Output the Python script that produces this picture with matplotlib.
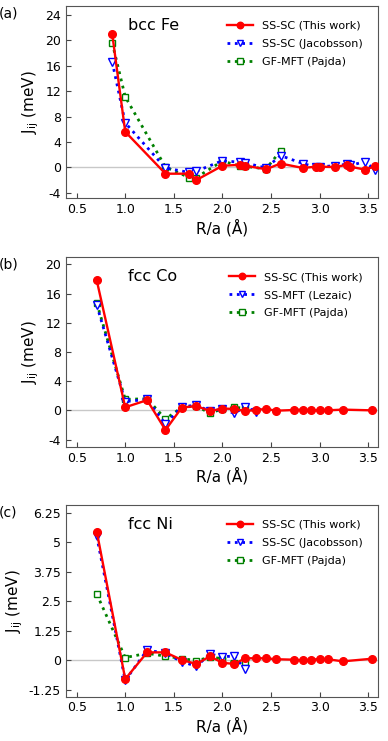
import numpy as np
import matplotlib.pyplot as plt

# =========================
# 0. Data
# =========================
# bcc Fe
fe_r = [0.866, 1.0, 1.414, 1.658, 1.732, 2.0, 2.179, 2.236, 2.449, 2.598,
        2.828, 2.958, 3.0, 3.162, 3.279, 3.317, 3.464, 3.571]
fe_this = [21.0, 5.6, -1.0, -1.0, -2.0, 0.25, 0.4, 0.25, -0.3, 0.6,
           -0.1, 0.1, 0.1, 0.05, 0.4, 0.1, -0.35, 0.15]
fe_jac = [16.6, 7.0, -0.1, -0.8, -0.6, 1.05, 0.8, 0.7, -0.1, 1.85,
          0.6, 0.05, 0.1, 0.25, 0.5, 0.3, 0.9, -0.4]
fe_r_pajda = [0.866, 1.0, 1.414, 1.658, 1.732, 2.0, 2.179, 2.236, 2.449, 2.598]
fe_pajda = [19.6, 11.1, 0.05, -1.6, -1.6, 1.0, 0.2, 0.15, -0.25, 2.6]

# fcc Co
co_r = [0.707, 1.0, 1.225, 1.414, 1.581, 1.732, 1.871, 2.0, 2.121, 2.236,
        2.345, 2.449, 2.55, 2.739, 2.828, 2.915, 3.0, 3.082, 3.240, 3.536]
co_this = [17.8, 0.42, 1.4, -2.7, 0.37, 0.6, -0.1, 0.24, 0.2, -0.1,
           0.05, 0.2, -0.05, 0.05, 0.1, 0.0, 0.0, 0.0, 0.1, 0.0]
co_r_lez = [0.707, 1.0, 1.225, 1.414, 1.581, 1.732, 1.871, 2.0, 2.121, 2.236, 2.345]
co_lez = [14.4, 1.2, 1.5, -1.9, 0.5, 0.7, -0.1, 0.15, -0.4, 0.5, -0.2]
co_r_pajda = [0.707, 1.0, 1.225, 1.414, 1.581, 1.732, 1.871, 2.0, 2.121, 2.236]
co_pajda = [14.7, 1.5, 1.6, -1.2, 0.4, 0.6, -0.4, 0.2, 0.4, 0.3]

# fcc Ni
ni_r = co_r
ni_this = [5.45, -0.79, 0.34, 0.34, 0.02, -0.15, 0.17, -0.1, -0.15, 0.09,
           0.09, 0.09, 0.05, 0.03, 0.0, 0.03, 0.06, 0.05, -0.04, 0.07]
ni_r_jac = [0.707, 1.0, 1.225, 1.414, 1.581, 1.732, 1.871, 2.0, 2.121, 2.236]
ni_jac = [5.25, -0.85, 0.44, 0.3, -0.05, -0.25, 0.27, 0.16, 0.18, -0.37]
ni_r_pajda = ni_r_jac
ni_pajda = [2.81, 0.12, 0.3, 0.18, 0.08, -0.01, 0.13, 0.08, -0.1, -0.06]

xticks = [0.5, 1.0, 1.5, 2.0, 2.5, 3.0, 3.5]

panels = [
    dict(tag='(a)', name='bcc Fe', pos=[0.170, 0.733, 0.804, 0.259],
         ylim=(-4.8, 25.4), yticks=[-4, 0, 4, 8, 12, 16, 20, 24],
         yticklabels=['-4', '0', '4', '8', '12', '16', '20', '24'],
         this=(fe_r, fe_this), ref1=(fe_r, fe_jac), ref2=(fe_r_pajda, fe_pajda),
         lab1='SS-SC (Jacobsson)'),
    dict(tag='(b)', name='fcc Co', pos=[0.170, 0.397, 0.804, 0.256],
         ylim=(-5.0, 21.0), yticks=[-4, 0, 4, 8, 12, 16, 20],
         yticklabels=['-4', '0', '4', '8', '12', '16', '20'],
         this=(co_r, co_this), ref1=(co_r_lez, co_lez), ref2=(co_r_pajda, co_pajda),
         lab1='SS-MFT (Lezaic)'),
    dict(tag='(c)', name='fcc Ni', pos=[0.170, 0.060, 0.804, 0.2585],
         ylim=(-1.53, 6.58), yticks=[-1.25, 0, 1.25, 2.5, 3.75, 5, 6.25],
         yticklabels=['-1.25', '0', '1.25', '2.5', '3.75', '5', '6.25'],
         this=(ni_r, ni_this), ref1=(ni_r_jac, ni_jac), ref2=(ni_r_pajda, ni_pajda),
         lab1='SS-SC (Jacobsson)'),
]

fig = plt.figure(figsize=(3.88, 7.41), dpi=100)

for p in panels:
    ax = fig.add_axes(p['pos'])
    ax.axhline(0, color='#c8c8c8', lw=1, zorder=0)
    ax.plot(*p['this'], color='red', lw=1.7, marker='o', ms=5.5,
            label='SS-SC (This work)', zorder=4)
    ax.plot(*p['ref1'], color='blue', lw=2, ls=':', marker='v', ms=5.5,
            mfc='white', mew=1, label=p['lab1'], zorder=3)
    ax.plot(*p['ref2'], color='green', lw=2, ls=':', marker='s', ms=5,
            mfc='white', mew=1, label='GF-MFT (Pajda)', zorder=2)
    ax.set_xlim(0.39, 3.6)
    ax.set_ylim(*p['ylim'])
    ax.set_xticks(xticks)
    ax.set_xticklabels([f'{t:.1f}' for t in xticks])
    ax.set_yticks(p['yticks'])
    ax.set_yticklabels(p['yticklabels'])
    ax.tick_params(direction='in', labelsize=9, length=3.5, color='#444444')
    for s in ax.spines.values():
        s.set_color('#555555')
    ax.set_xlabel('R/a (Å)', fontsize=11, labelpad=2)
    ax.set_ylabel(r'J$_{\mathrm{ij}}$ (meV)', fontsize=11, labelpad=3)
    ax.text(0.2, 0.90, p['name'], transform=ax.transAxes, fontsize=11.5,
            va='center')
    ax.text(-0.215, 0.96, p['tag'], transform=ax.transAxes, fontsize=10,
            ha='left', va='center')
    ax.legend(loc='upper right', frameon=False, fontsize=8,
              handlelength=2.4, handletextpad=0.8, markerscale=0.85,
              borderaxespad=0.95, labelspacing=0.73)

fig.savefig('out.png', dpi=100)
